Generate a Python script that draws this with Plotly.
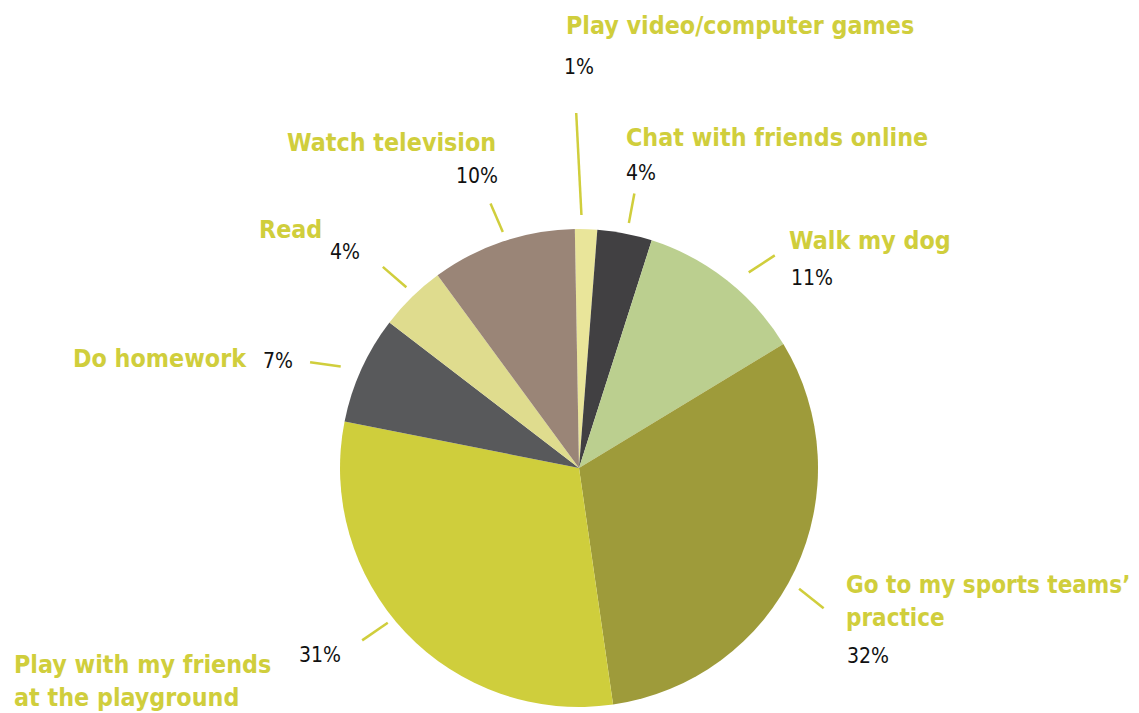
import math
import plotly.graph_objects as go

# ---- data ----
categories = ["Play video/computer games", "Chat with friends online", "Walk my dog",
              "Go to my sports teams’ practice", "Play with my friends at the playground",
              "Do homework", "Read", "Watch television"]
shares = [1.5, 3.7, 11.4, 31.4, 30.4, 7.3, 4.5, 9.8]          # slice sizes
pct_labels = ["1%", "4%", "11%", "32%", "31%", "7%", "4%", "10%"]  # printed values
colors = ["#E9E59A", "#414042", "#BBCF8F", "#9E9B3A", "#CFCE3C", "#58595B", "#DFDC8E", "#9A8577"]

# ---- layout constants ----
W, H = 1139, 713
CX, CY, R = 579, 468, 239
ROT = -1
LABEL_COLOR = "#D0CE3C"
NARROW = "DejaVu Sans Condensed, Liberation Sans Narrow, sans-serif"

def px(x):
    return x / W

def py(y):
    return 1 - y / H

fig = go.Figure(go.Pie(
    labels=categories, values=shares, sort=False, direction="clockwise",
    rotation=ROT, marker=dict(colors=colors, line=dict(width=0)),
    textinfo="none", hoverinfo="label+percent", showlegend=False,
    domain=dict(x=[px(CX - R), px(CX + R)], y=[py(CY + R), py(CY - R)]),
))

# leader lines, derived from slice mid-angles (angle offsets in deg, radii in px)
leader = [(-1.15, 253, -2.15, 355), (0.45, 250, 0.35, 280), (2.7, 259, 4.4, 289),
          (3.45, 251, 4.55, 282), (4.5, 246, 5.0, 277), (-1.3, 259, -2.9, 289),
          (0.7, 250, 0.1, 281), (0.75, 248, 0.15, 279)]
total = sum(shares)
cum = 0
shapes = []
for i, v in enumerate(shares):
    mid = ROT + 360 * (cum + v / 2) / total
    cum += v
    a1, r1, a2, r2 = leader[i]
    t1, t2 = math.radians(mid + a1), math.radians(mid + a2)
    x1, y1 = CX + r1 * math.sin(t1), CY - r1 * math.cos(t1)
    x2, y2 = CX + r2 * math.sin(t2), CY - r2 * math.cos(t2)
    shapes.append(dict(type="line", xref="paper", yref="paper",
                       x0=px(x1), y0=py(y1), x1=px(x2), y1=py(y2),
                       line=dict(color=LABEL_COLOR, width=2.5)))

# text placement
name_lines = [["Play video/computer games"], ["Chat with friends online"], ["Walk my dog"],
              ["Go to my sports teams’", "practice"], ["Play with my friends", "at the playground"],
              ["Do homework"], ["Read"], ["Watch television"]]
name_pos = [(565, 25, "left"), (625, 137, "left"), (788, 240, "left"), (845, 585, "left"),
            (13, 664, "left"), (248, 358, "right"), (323, 230, "right"), (497, 143, "right")]
name_size = [24.8, 24.8, 24.8, 24, 24.8, 24.8, 24.8, 24.8]
pct_pos = [(563, 67, "left"), (625, 173, "left"), (790, 278, "left"), (846, 656, "left"),
           (342, 655, "right"), (262, 361, "left"), (329, 252, "left"), (499, 176, "right")]
LINE_STEP = 33

ann = []
for i in range(len(categories)):
    x, y, anc = name_pos[i]
    for k, line in enumerate(name_lines[i]):
        ann.append(dict(text=line, x=px(x), y=py(y + k * LINE_STEP), xref="paper", yref="paper",
                        xanchor=anc, yanchor="middle", showarrow=False, borderpad=0,
                        font=dict(family=NARROW, size=name_size[i], color=LABEL_COLOR,
                                  weight="bold")))
    x, y, anc = pct_pos[i]
    ann.append(dict(text=pct_labels[i], x=px(x), y=py(y), xref="paper", yref="paper",
                    xanchor=anc, yanchor="middle", showarrow=False, borderpad=0,
                    font=dict(family=NARROW, size=21, color="#111111")))

fig.update_layout(width=W, height=H, margin=dict(l=0, r=0, t=0, b=0),
                  paper_bgcolor="white", plot_bgcolor="white",
                  shapes=shapes, annotations=ann)
fig.write_html("out.html", config={"displayModeBar": False},
               post_script="document.body.style.margin='0';document.body.style.overflow='hidden';")
